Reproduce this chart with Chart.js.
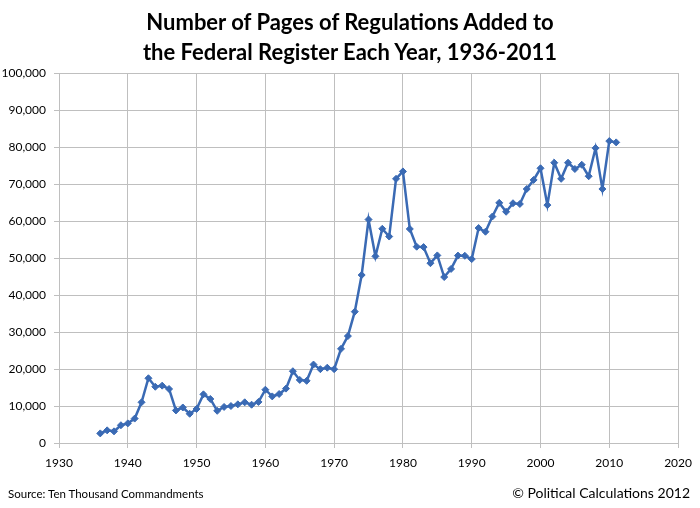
<!DOCTYPE html>
<html>
<head>
<meta charset="utf-8">
<script src="https://cdn.jsdelivr.net/npm/chart.js@4/dist/chart.umd.min.js"></script>
<style>
  html, body { margin: 0; padding: 0; background: #fff; }
  #wrap { position: relative; width: 700px; height: 508px; }
  #title { position: absolute; left: 0; top: 7px; width: 700px; text-align: center;
           font-family: Lato, "Open Sans", sans-serif; font-weight: bold; font-size: 22px;
           line-height: 30px; color: #000; }
  #src { position: absolute; left: 8px; top: 487px; font-family: Lato, sans-serif; font-size: 11.5px; color: #000; }
  #copy { position: absolute; right: 10px; top: 484px; font-family: Lato, sans-serif; font-size: 14px; color: #000; }
</style>
</head>
<body>
<div id="wrap">
  <canvas id="c" width="700" height="508"></canvas>
  <div id="title">Number of Pages of Regulations Added to<br>the Federal Register Each Year, 1936-2011</div>
  <div id="src">Source: Ten Thousand Commandments</div>
  <div id="copy">© Political Calculations 2012</div>
</div>
<script>
const years = [];
for (let y = 1936; y <= 2011; y++) years.push(y);
const pages = [
  2600, 3420, 3150, 4800, 5300, 6600, 11000, 17500, 15200, 15500,
  14600, 8800, 9600, 7900, 9200, 13150, 11900, 8700, 9750, 10000,
  10450, 11000, 10350, 11100, 14400, 12600, 13240, 14700, 19400, 17050,
  16800, 21200, 19950, 20350, 19950, 25450, 28900, 35500, 45400, 60400,
  50450, 57900, 55800, 71400, 73400, 57850, 53050, 52950, 48600, 50700,
  44850, 47050, 50650, 50600, 49700, 58100, 57100, 61200, 64900, 62500,
  64800, 64600, 68650, 71100, 74250, 64300, 75750, 71400, 75750, 74050,
  75200, 72100, 79700, 68650, 81600, 81250
];
const xTicks = [1930, 1940, 1950, 1960, 1970, 1980, 1990, 2000, 2010, 2020];

const gridColor = '#bfbfbf';
new Chart(document.getElementById('c'), {
  type: 'line',
  data: {
    datasets: [{
      data: years.map((y, i) => ({ x: y, y: pages[i] })),
      borderColor: '#3a6ab4',
      backgroundColor: '#3a6ab4',
      borderWidth: 2.5,
      pointStyle: 'rectRot',
      pointRadius: 3.5,
      pointBorderWidth: 1,
      tension: 0
    }]
  },
  options: {
    responsive: false,
    animation: false,
    layout: { padding: { top: 73, left: 0, right: 20, bottom: 0 } },
    plugins: { legend: { display: false }, title: { display: false }, tooltip: { enabled: false } },
    scales: {
      x: {
        type: 'linear',
        min: 1930, max: 2020,
        afterBuildTicks: s => { s.ticks = xTicks.map(v => ({ value: v })); },
        afterFit: s => { s.height = 65; },
        grid: { color: gridColor, lineWidth: 1, tickLength: 5, drawTicks: true },
        border: { color: gridColor, width: 1 },
        ticks: { color: '#000', font: { family: 'Lato', size: 12 }, padding: 8,
                 maxRotation: 0, callback: v => String(v) }
      },
      y: {
        min: 0, max: 100000,
        afterFit: s => { s.width = 59; },
        grid: { color: gridColor, lineWidth: 1, tickLength: 5 },
        border: { color: gridColor, width: 1 },
        ticks: { stepSize: 10000, color: '#000', font: { family: 'Lato', size: 12 }, padding: 8,
                 callback: v => v.toLocaleString('en-US') }
      }
    }
  }
});
</script>
</body>
</html>
